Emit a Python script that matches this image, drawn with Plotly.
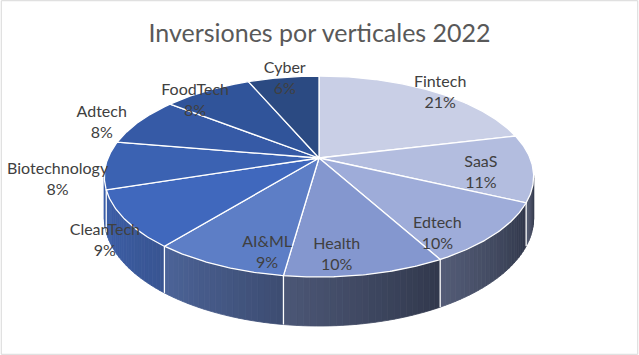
import numpy as np
import plotly.graph_objects as go

# ---- data ----
categories = ["Fintech", "SaaS", "Edtech", "Health", "AI&ML", "CleanTech",
              "Biotechnology", "Adtech", "FoodTech", "Cyber"]
values = [21.2, 10.8, 10.0, 10.2, 8.6, 9.2, 7.7, 7.9, 8.0, 6.4]
title_text = "Inversiones por verticales 2022"

# ---- styles ----
top_colors = ["#c9cfe6", "#b3bddf", "#9eacd9", "#8497cf", "#5d7ec6",
              "#4068bd", "#3b62b2", "#365aa6", "#30549a", "#2b4a82"]
label_r = [1.03, 0.76, 0.83, 0.83, 0.84, 1.14, 1.21, 1.18, 0.95, 1.0]
label_frac = [0.52, 0.61, 0.79, 0.65, 0.21, 0.35, 0.31, 0.37, 0.27, 0.52]
W, H = 639, 355
CX, CY = 319.0, 158.0   # projected pie centre (pixels)
A, B, K = 211.0, 97.1, -0.184  # perspective ellipse parameters
T = 40.0                # thickness
DARK = np.array([43, 49, 66])


def hex2rgb(h):
    h = h.lstrip("#")
    return np.array([int(h[i:i + 2], 16) for i in (0, 2, 4)])


def proj(theta_deg, r=1.0):
    th = np.radians(theta_deg)
    u = r * np.sin(th)
    v = -r * np.cos(th)
    d = 1 + K * v
    return CX + A * u / d, CY + B * v / d, v


def thick(v):
    return T / (1 + K * v)


total = sum(values)
fracs = [v / total for v in values]
starts = np.concatenate([[0], np.cumsum(fracs)[:-1]]) * 360
ends = np.cumsum(fracs) * 360

fig = go.Figure()

# ---- side walls ----
WALL_LO, WALL_HI = 100.0, 260.0
f_pts_t = [100, 133, 170, 205, 236, 258]
f_pts_f = [0.14, 0.20, 0.22, 0.52, 0.75, 0.85]
for i, (s, e) in enumerate(zip(starts, ends)):
    a0, a1 = max(s, WALL_LO), min(e, WALL_HI)
    if a1 <= a0:
        continue
    fmid = np.interp((a0 + a1) / 2, f_pts_t, f_pts_f)
    spread = 0.3 if fmid < 0.6 else 0.2
    n = max(1, int(np.ceil((a1 - a0) / 1.5)))
    edges = np.linspace(a0, a1, n + 1)
    top = hex2rgb(top_colors[i])
    for j in range(n):
        th = np.linspace(edges[j], edges[j + 1], 4)
        xs, ys, vs = proj(th)
        yb = ys + thick(vs)
        frac = ((edges[j] + edges[j + 1]) / 2 - a0) / (a1 - a0)
        f = np.clip(fmid + spread * (frac - 0.5), 0.04, 0.95)
        c = DARK + f * (top - DARK)
        col = "rgb(%d,%d,%d)" % tuple(np.round(c).astype(int))
        px = list(xs) + list(xs[::-1]) + [xs[0]]
        py = list(ys) + list(yb[::-1]) + [ys[0]]
        fig.add_trace(go.Scatter(x=px, y=py, mode="lines", fill="toself",
                                 fillcolor=col, line=dict(color=col, width=0.8),
                                 hoverinfo="skip", showlegend=False))

# wall boundary lines
for b in list(starts) + [360.0]:
    if WALL_LO < b < WALL_HI:
        x0, y0, v0 = proj(b)
        fig.add_trace(go.Scatter(x=[x0, x0], y=[y0, y0 + thick(v0)], mode="lines",
                                 line=dict(color="white", width=1.3),
                                 hoverinfo="skip", showlegend=False))

# ---- top faces ----
for i, (s, e) in enumerate(zip(starts, ends)):
    th = np.linspace(s, e, max(3, int((e - s) / 0.5)))
    xs, ys, _ = proj(th)
    px = [CX] + list(xs) + [CX]
    py = [CY] + list(ys) + [CY]
    fig.add_trace(go.Scatter(x=px, y=py, mode="lines", fill="toself",
                             fillcolor=top_colors[i],
                             line=dict(color="white", width=1.3),
                             hoverinfo="skip", showlegend=False))

# ---- labels ----
lx, ly, lt = [], [], []
for i, (s, e) in enumerate(zip(starts, ends)):
    x, y, _ = proj(s + label_frac[i] * (e - s), label_r[i])
    lx.append(x)
    ly.append(y + 2.5)
    lt.append("%s<br>%d%%" % (categories[i], round(fracs[i] * 100)))
fig.add_trace(go.Scatter(x=lx, y=ly, mode="text", text=lt,
                         textposition="middle center",
                         textfont=dict(family="Lato", size=16, color="#404040"),
                         hoverinfo="skip", showlegend=False))

fig.update_layout(
    width=W, height=H,
    margin=dict(l=0, r=0, t=0, b=0),
    paper_bgcolor="white", plot_bgcolor="white",
    xaxis=dict(range=[0, W], visible=False, fixedrange=True),
    yaxis=dict(range=[H, 0], visible=False, fixedrange=True),
    title=dict(text=title_text, x=0.5, xanchor="center", y=1 - 33 / H, yanchor="middle",
               font=dict(family="Lato", size=25, color="#595959")),
    shapes=[dict(type="rect", xref="paper", yref="paper", x0=0.002, y0=0.002,
                 x1=0.998, y1=0.998, line=dict(color="#d9d9d9", width=1))],
)

fig.write_html("out.html", config={"displayModeBar": False},
               post_script="document.body.style.margin='0';document.body.style.overflow='hidden';")
